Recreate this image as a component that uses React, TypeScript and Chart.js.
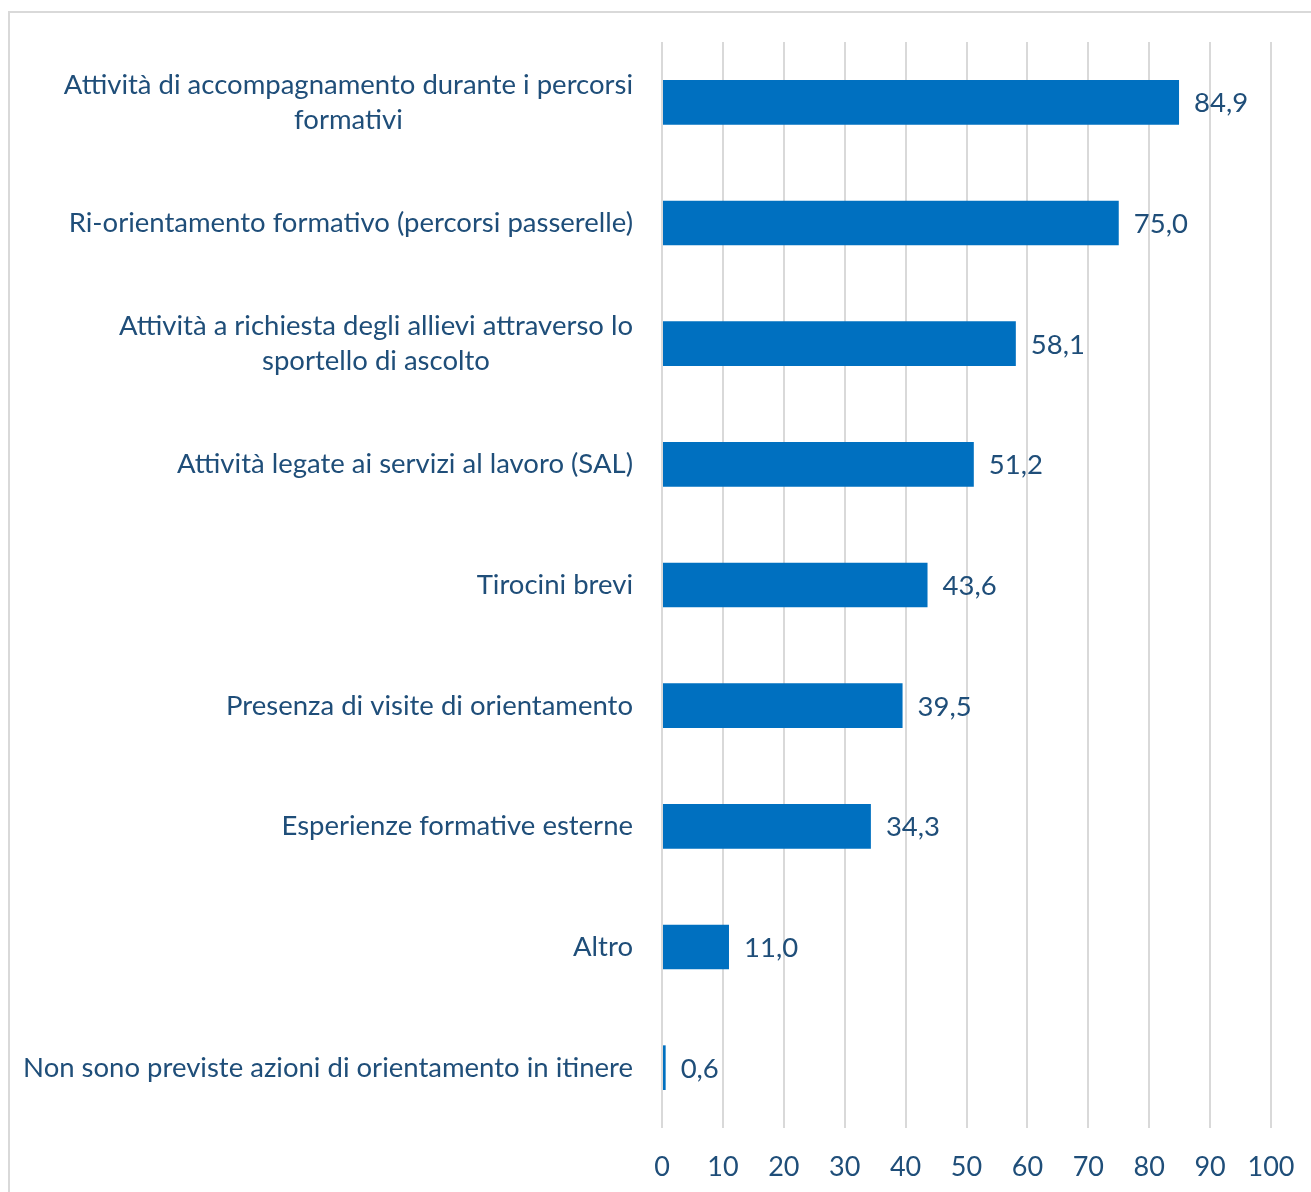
import React, { useEffect, useRef } from "react";
import { Chart, registerables } from "chart.js";

Chart.register(...registerables);

const categories: string[][] = [
  ["Attività di accompagnamento durante i percorsi", "formativi"],
  ["Ri-orientamento formativo (percorsi passerelle)"],
  ["Attività a richiesta degli allievi attraverso lo", "sportello di ascolto"],
  ["Attività legate ai servizi al lavoro (SAL)"],
  ["Tirocini brevi"],
  ["Presenza di visite di orientamento"],
  ["Esperienze formative esterne"],
  ["Altro"],
  ["Non sono previste azioni di orientamento in itinere"],
];
const values: number[] = [84.9, 75.0, 58.1, 51.2, 43.6, 39.5, 34.3, 11.0, 0.6];
const xTicks: number[] = [0, 10, 20, 30, 40, 50, 60, 70, 80, 90, 100];

const FONT = "Lato";
const TEXT = "#1F4E79";
const BAR = "#0070C0";

const labelsPlugin = {
  id: "customLabels",
  afterDraw(chart: any) {
    const ctx = chart.ctx;
    const y = chart.scales.y;
    const x = chart.scales.x;
    const area = chart.chartArea;
    ctx.save();
    ctx.fillStyle = TEXT;
    ctx.font = `27.5px ${FONT}`;
    ctx.textBaseline = "middle";
    const lineH = 35;
    categories.forEach((lines, i) => {
      const cy = y.getPixelForValue(i);
      const widths = lines.map((l) => ctx.measureText(l).width);
      const bw = Math.max(...widths);
      const cx = area.left - 29 - bw / 2;
      ctx.textAlign = "center";
      const startY = cy - ((lines.length - 1) * lineH) / 2;
      lines.forEach((l, k) => ctx.fillText(l, cx, startY + k * lineH));
    });
    ctx.textAlign = "left";
    values.forEach((v, i) => {
      const px = x.getPixelForValue(v);
      const py = y.getPixelForValue(i);
      ctx.fillText(v.toFixed(1).replace(".", ","), px + 15, py + 1);
    });
    ctx.restore();
  },
};

export default function App() {
  const ref = useRef<HTMLCanvasElement>(null);
  useEffect(() => {
    if (!ref.current) return;
    const chart = new Chart(ref.current, {
      type: "bar",
      data: {
        labels: categories.map((c) => c.join(" ")),
        datasets: [
          {
            data: values,
            backgroundColor: BAR,
            borderWidth: 0,
            barPercentage: 0.37,
            categoryPercentage: 1,
          },
        ],
      },
      options: {
        indexAxis: "y",
        responsive: false,
        animation: false,
        layout: { padding: { left: 0, right: 40, top: 42, bottom: 0 } },
        plugins: { legend: { display: false }, tooltip: { enabled: false } },
        scales: {
          x: {
            min: 0,
            max: 100,
            afterBuildTicks(scale: any) {
              scale.ticks = xTicks.map((v) => ({ value: v }));
            },
            afterFit(scale: any) {
              scale.height = 64;
              scale.paddingLeft = 0;
              scale.paddingRight = 0;
            },
            grid: { color: "#D9D9D9", lineWidth: 2, drawTicks: false },
            border: { display: false },
            ticks: {
              color: TEXT,
              font: { family: FONT, size: 27 },
              padding: 23,
              maxRotation: 0,
              autoSkip: false,
            },
          },
          y: {
            afterFit(scale: any) {
              scale.width = 662;
            },
            grid: { display: false },
            border: { display: false },
            ticks: { display: false },
          },
        },
      },
      plugins: [labelsPlugin],
    });
    return () => chart.destroy();
  }, []);
  return (
    <div style={{ position: "fixed", left: 0, top: 0, width: 1311, height: 1192, background: "#fff", overflow: "hidden" }}>
      <canvas ref={ref} width={1311} height={1192} style={{ position: "absolute", left: 0, top: 0 }} />
      <div
        style={{
          position: "absolute",
          left: 8,
          top: 11,
          width: 1400,
          height: 1400,
          border: "2px solid #D9D9D9",
          pointerEvents: "none",
        }}
      />
    </div>
  );
}
